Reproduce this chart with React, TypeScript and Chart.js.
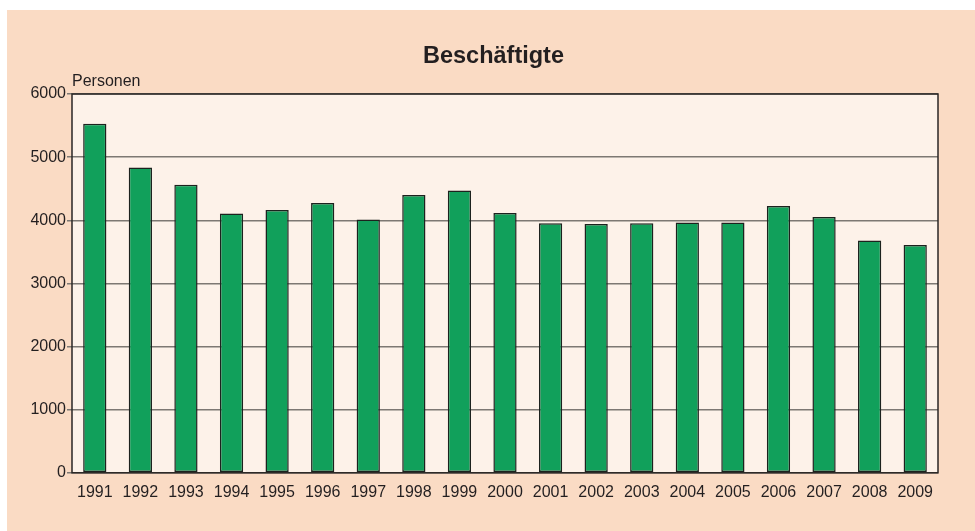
import React, { useEffect, useRef } from "react";
import { Chart, registerables } from "chart.js";

Chart.register(...registerables);

const years = ["1991", "1992", "1993", "1994", "1995", "1996", "1997", "1998", "1999", "2000", "2001", "2002", "2003", "2004", "2005", "2006", "2007", "2008", "2009"];
const employees = [5530, 4836, 4561, 4106, 4164, 4275, 4011, 4402, 4471, 4116, 3952, 3941, 3952, 3963, 3963, 4227, 4052, 3678, 3608];
const yMin = 0;
const yMax = 6000;
const yStep = 1000;
const chartTitle = "Beschäftigte";
const unitLabel = "Personen";

const FONT = "'Liberation Sans', Arial, Helvetica, sans-serif";
const TEXT = "#231f20";

export default function App() {
  const ref = useRef<HTMLCanvasElement | null>(null);

  useEffect(() => {
    const canvas = ref.current;
    if (!canvas) return;

    const decor = {
      id: "decor",
      beforeDraw(chart: any) {
        const { ctx, chartArea: a, width, height } = chart;
        ctx.save();
        ctx.fillStyle = "#ffffff";
        ctx.fillRect(0, 0, width, height);
        ctx.fillStyle = "#fadbc4";
        ctx.fillRect(7, 10, width - 7, height - 10);
        ctx.fillStyle = "#fdf2e9";
        ctx.fillRect(a.left, a.top, a.right - a.left, a.bottom - a.top);
        ctx.restore();
      },
      afterDraw(chart: any) {
        const { ctx, chartArea: a } = chart;
        ctx.save();
        ctx.strokeStyle = "#2a2624";
        ctx.lineWidth = 1.5;
        ctx.strokeRect(a.left, a.top, a.right - a.left, a.bottom - a.top);
        ctx.fillStyle = TEXT;
        ctx.textBaseline = "alphabetic";
        ctx.font = `16px ${FONT}`;
        ctx.textAlign = "left";
        ctx.fillText(unitLabel, a.left, a.top - 8.5);
        ctx.font = `bold 23.5px ${FONT}`;
        ctx.textAlign = "center";
        ctx.fillText(chartTitle, 493.5, 63.3);
        ctx.restore();
      },
    };

    const chart = new Chart(canvas, {
      type: "bar",
      data: {
        labels: years,
        datasets: [
          {
            data: employees,
            backgroundColor: "#11a05b",
            borderColor: "#1c221e",
            borderWidth: 1.5,
            borderSkipped: false,
            barPercentage: 0.51,
            categoryPercentage: 1.0,
          },
        ],
      },
      options: {
        animation: false,
        responsive: false,
        devicePixelRatio: 1,
        layout: { padding: { left: 0, right: 37, top: 94, bottom: 19 } },
        plugins: {
          legend: { display: false },
          tooltip: { enabled: false },
          title: { display: false },
        },
        scales: {
          x: {
            grid: { display: false, drawTicks: false },
            border: { display: false },
            ticks: {
              color: TEXT,
              font: { family: FONT, size: 16 },
              padding: 10,
              maxRotation: 0,
              autoSkip: false,
            },
          },
          y: {
            min: yMin,
            max: yMax,
            afterFit(scale: any) {
              scale.width = 72;
            },
            grid: {
              color: "#7d7873",
              lineWidth: 1.5,
              drawTicks: true,
              tickLength: 5,
            },
            border: { display: false },
            ticks: {
              stepSize: yStep,
              color: TEXT,
              font: { family: FONT, size: 16 },
              padding: 1,
              callback: (v: any) => String(v),
            },
          },
        },
      },
      plugins: [decor],
    });

    return () => chart.destroy();
  }, []);

  return (
    <div style={{ position: "fixed", left: 0, top: 0, width: 975, height: 531 }}>
      <canvas ref={ref} width={975} height={531} style={{ display: "block" }} />
    </div>
  );
}
